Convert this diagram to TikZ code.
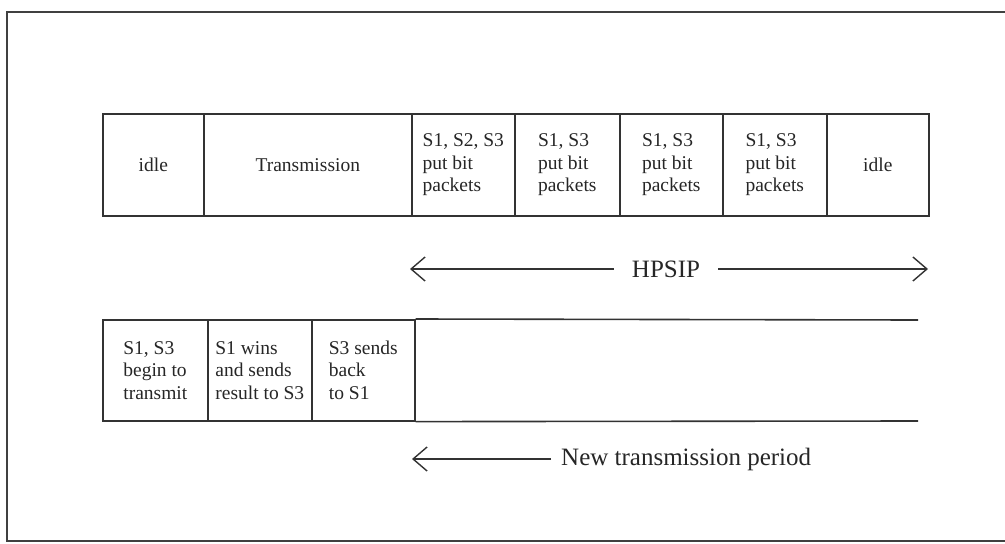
\documentclass[tikz,border=0pt]{standalone}
\usepackage{fontspec}
\setmainfont{Liberation Serif}
\usetikzlibrary{arrows.meta}
\begin{document}
\begin{tikzpicture}[x=1pt,y=-1pt,
  frame/.style={line width=1.8pt,draw=black!75},
  cell/.style={draw=black!80,line width=1.6pt,anchor=north west,align=left,inner sep=0pt,
    font=\fontsize{19.5}{22.5}\selectfont,text=black!85},
  rule/.style={draw=black!80,line width=1.6pt},
  lbl/.style={font=\fontsize{25}{30}\selectfont,text=black!85,inner ysep=0pt},
  arr/.style={line width=1.4pt,draw=black!80,-{Straight Barb[length=14pt,width=24pt,line width=1.4pt]}}]
\useasboundingbox (0,0) rectangle (1005,544);
% outer frame
\draw[frame] (1006,12) -- (7,12) -- (7,541) -- (1006,541);
% top row
\node[cell,minimum width=101pt,minimum height=102pt] (t1) at (102,113) {idle};
\node[cell,minimum width=208pt,minimum height=102pt] (t2) at (203,113) {Transmission};
\node[cell,minimum width=103pt,minimum height=102pt] (t3) at (411,113) {S1, S2, S3\\put bit\\packets};
\node[cell,minimum width=105pt,minimum height=102pt] (t4) at (514,113) {S1, S3\\put bit\\packets};
\node[cell,minimum width=103pt,minimum height=102pt] (t5) at (619,113) {S1, S3\\put bit\\packets};
\node[cell,minimum width=104pt,minimum height=102pt] (t6) at (722,113) {S1, S3\\put bit\\packets};
\node[cell,minimum width=102pt,minimum height=102pt] (t7) at (826,113) {idle};
% HPSIP arrow
\node[lbl,inner xsep=18pt] (hp) at (666,269) {HPSIP};
\coordinate (hpl) at (410,269);
\coordinate (hpr) at (928,269);
\draw[arr] (hp.west) -- (hpl);
\draw[arr] (hp.east) -- (hpr);
% bottom row
\node[cell,minimum width=105pt,minimum height=101pt] (b1) at (102,319) {S1, S3\\begin to\\transmit};
\node[cell,minimum width=104pt,minimum height=101pt] (b2) at (207,319) {S1 wins\\and sends\\result to S3};
\node[cell,minimum width=103pt,minimum height=101pt] (b3) at (311,319) {S3 sends\\back\\to S1};
\coordinate (rt) at (918,320);
\coordinate (rb) at (918,421);
\draw[rule] (b3.north east) -- (rt);
\draw[rule] (b3.south east) -- (rb);
% new transmission period
\node[lbl,anchor=west,inner xsep=10pt] (ntp) at (551,459) {New transmission period};
\coordinate (ntpl) at (412,459);
\draw[arr] (ntp.west) -- (ntpl);
\end{tikzpicture}
\end{document}
